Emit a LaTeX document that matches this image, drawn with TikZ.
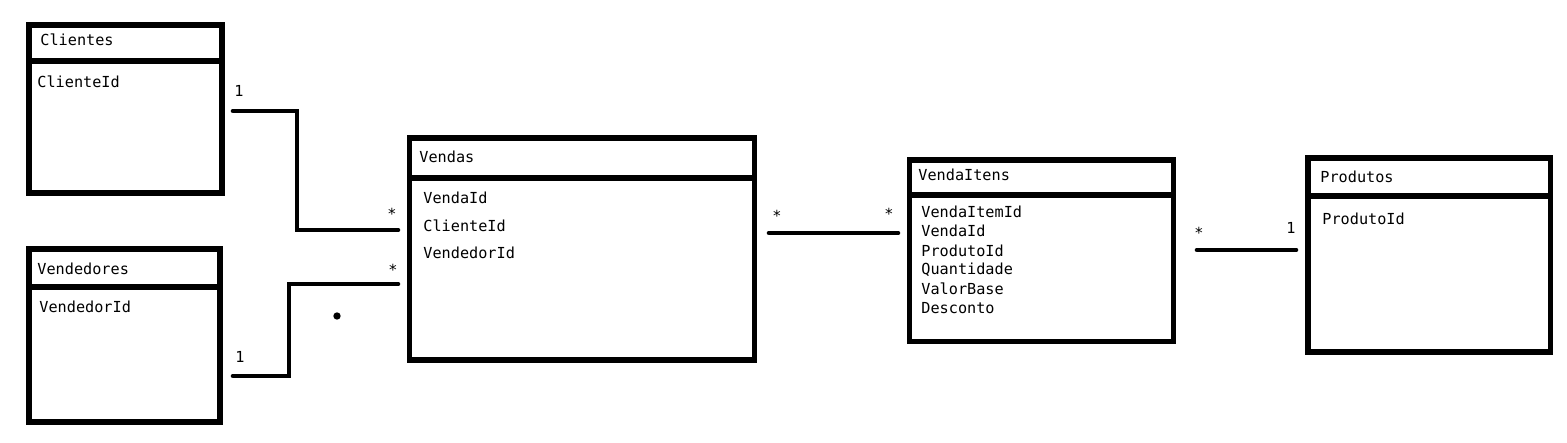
\documentclass[tikz,border=0pt]{standalone}
\usepackage{fontspec}
\setmonofont{DejaVu Sans Mono}
\tikzset{
    tbl/.style={draw, line width=2.6pt, anchor=north west, inner sep=0pt, outer sep=0pt}, % caixa de tabela
    field/.style={anchor=west, inner sep=0pt, font=\ttfamily\fontsize{7.6}{9}\selectfont},
    mult/.style={inner sep=0pt, font=\ttfamily\fontsize{7.6}{9}\selectfont},
    link/.style={line width=2.3pt, line cap=round}, % ligacao entre tabelas
    dot/.style={circle, fill, inner sep=1.3pt}
}
\begin{document}
\begin{tikzpicture}[x=0.5pt, y=-0.5pt]
            \fill[white] (0,0) rectangle (1567,443);
            \useasboundingbox (0,0) rectangle (1567,443);

            \foreach \nm/\xl/\yt/\xr/\yh/\yb in {clientes/29/25/222/61/193, vendedores/29/249/220/287/422, vendas/409.5/138/754.5/178/360, itens/909.5/160/1173.5/195/341.5, produtos/1308/158/1550.5/196/352} {
                \node[tbl, minimum width=(\xr-\xl)*0.5pt, minimum height=(\yb-\yt)*0.5pt] (\nm) at (\xl,\yt) {};
                \node[tbl, minimum width=(\xr-\xl)*0.5pt, minimum height=(\yh-\yt)*0.5pt] (\nm-head) at (\xl,\yt) {};
            }

            \node[field] (clientes-t) at (40,40) {Clientes};
            \node[field] (clientes-f1) at (37,82) {ClienteId};
            \node[field] (vendedores-t) at (37,269) {Vendedores};
            \node[field] (vendedores-f1) at (39,307) {VendedorId};
            \node[field] (vendas-t) at (419,157) {Vendas};
            \foreach \f [count=\i] in {VendaId,ClienteId,VendedorId} {\node[field] (vendas-f\i) at (423,170.5+27.5*\i) {\f};}
            \node[field] (itens-t) at (918,175) {VendaItens};
            \foreach \f [count=\i] in {VendaItemId,VendaId,ProdutoId,Quantidade,ValorBase,Desconto} {\node[field] (itens-f\i) at (921,192.8+19.2*\i) {\f};}
            \node[field] (produtos-t) at (1320,177) {Produtos};
            \node[field] (produtos-f1) at (1322,219) {ProdutoId};

            \coordinate (cli-a) at (233,111); \coordinate (cli-k) at (297,230); \coordinate (cli-b) at (398,230);
            \coordinate (vdr-a) at (233,376); \coordinate (vdr-k) at (289,284); \coordinate (vdr-b) at (398,284);
            \coordinate (vnd-a) at (769,233); \coordinate (vnd-b) at (898,233);
            \coordinate (prd-a) at (1197,250); \coordinate (prd-b) at (1296,250);
            \draw[link] (cli-a) -| (cli-k) -- (cli-b);
            \draw[link] (vdr-a) -| (vdr-k) -- (vdr-b);
            \draw[link] (vnd-a) -- (vnd-b);
            \draw[link] (prd-a) -- (prd-b);

            \node[mult] (m1) at (239,91) {1};
            \node[mult] (m2) at (392,214) {*};
            \node[mult] (m3) at (393,270) {*};
            \node[mult] (m4) at (240,357) {1};
            \node[mult] (m5) at (777,216) {*};
            \node[mult] (m6) at (889,214) {*};
            \node[mult] (m7) at (1199,233) {*};
            \node[mult] (m8) at (1291,228) {1};
            \node[dot] (stray) at (337,316) {};
        \end{tikzpicture}
\end{document}
